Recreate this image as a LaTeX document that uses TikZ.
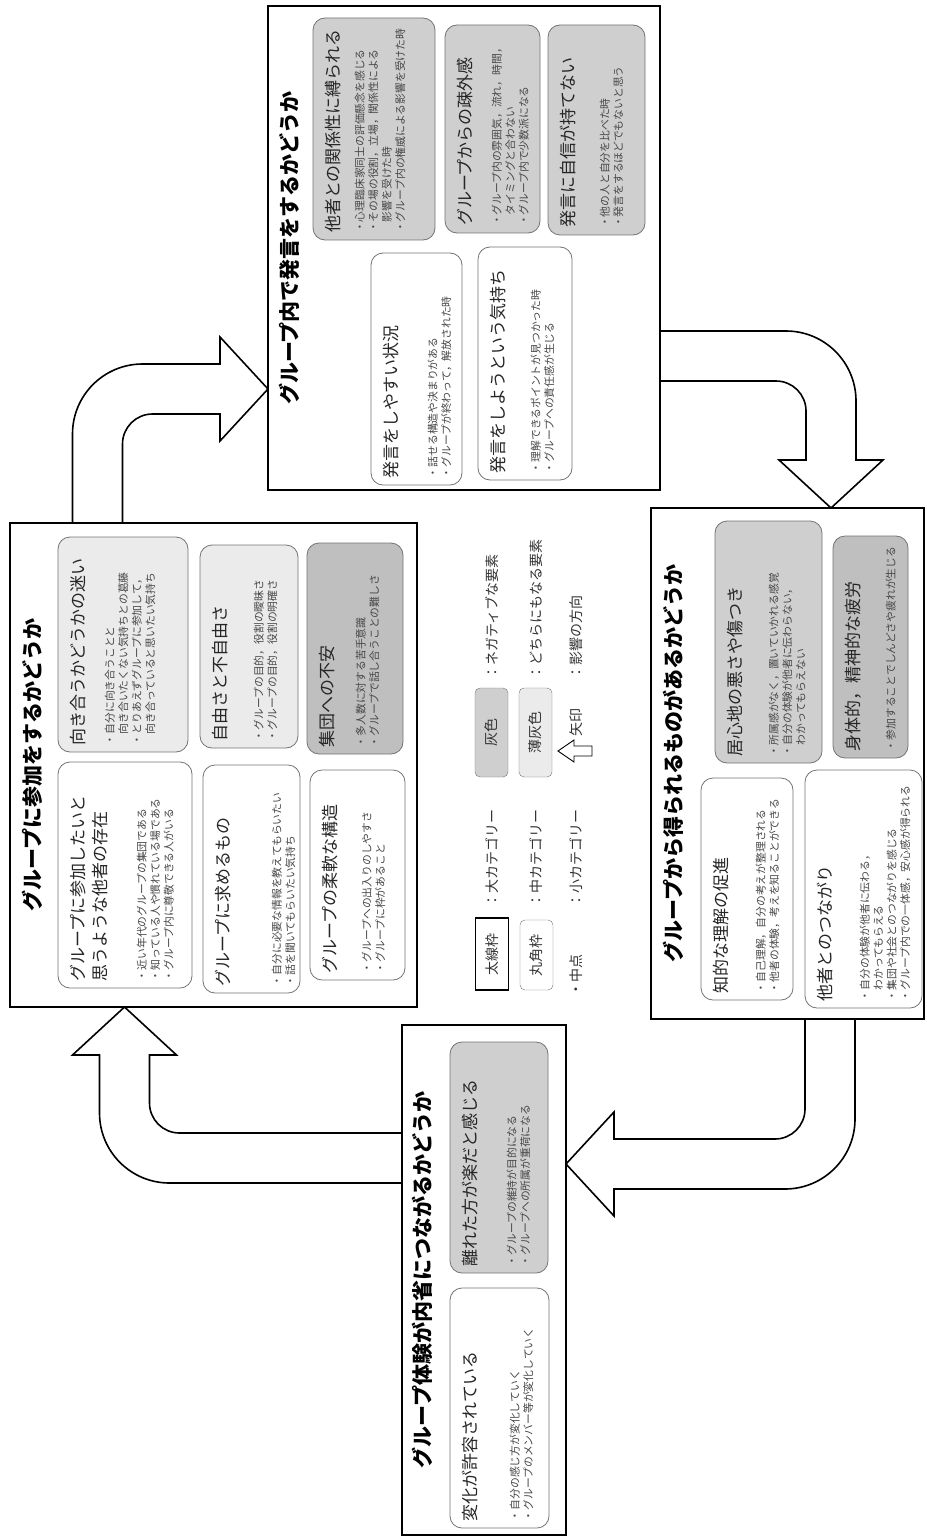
\documentclass[tikz,border=0pt]{standalone}
\usepackage{fontspec}
\setmainfont{Noto Sans CJK JP}
\usetikzlibrary{calc}
\newcommand{\midfont}{\fontsize{17pt}{22pt}\selectfont}
\newcommand{\subfont}{\fontsize{10.8pt}{13.5pt}\selectfont}
% category box body: [gap]{width}{height}{title}{items}
\newcommand{\cattext}[5][20pt]{%
  \parbox[c][#3][t]{#2}{\raggedright
    {\midfont\color{black!85}#4\par}\vspace{#1}%
    {\subfont\color{black!72}#5\par}}}
\begin{document}
\begin{tikzpicture}[x=1pt, y=1pt,
    bigbox/.style={draw, line width=2pt, outer sep=0pt, rotate=90},
    bigtitle/.style={rotate=90, font=\fontsize{21pt}{24pt}\selectfont\bfseries},
    catbox/.style={rotate=90, rounded corners=12pt, draw=black!55, line width=0.8pt, inner xsep=7pt, inner ysep=12pt},
    negbox/.style={catbox, fill=black!19},
    negdark/.style={catbox, fill=black!25},
    midbox/.style={catbox, fill=black!8},
    posbox/.style={catbox, fill=white},
    legbox/.style={rotate=90, inner sep=0pt, minimum height=33pt, font=\fontsize{14pt}{16pt}\selectfont, text=black!80},
    legtext/.style={rotate=90, anchor=west, inner sep=0pt, font=\fontsize{14pt}{16pt}\selectfont, text=black!80},
    bigarrow/.style={draw, line width=1.6pt, fill=white, line join=miter}]
\useasboundingbox (0,0) rectangle (926,-1538);

% large categories
\node[bigbox, minimum width=484pt, minimum height=392pt] (hatsugen) at (464,-248) {};
\node[bigbox, minimum width=484pt, minimum height=407pt] (sanka) at (213.5,-765) {};
\node[bigbox, minimum width=511pt, minimum height=273pt] (eru) at (787.5,-763.5) {};
\node[bigbox, minimum width=510pt, minimum height=164pt] (naisei) at (484,-1280) {};

\node[bigtitle] (hatsugen_ttl) at ($(hatsugen.north)+(21,0)$) {グループ内で発言をするかどうか};
\node[bigtitle] (sanka_ttl) at ($(sanka.north)+(22,0)$) {グループに参加をするかどうか};
\node[bigtitle] (eru_ttl) at ($(eru.north)+(22,0)$) {グループから得られるものがあるかどうか};
\node[bigtitle] (naisei_ttl) at ($(naisei.north)+(20,0)$) {グループ体験が内省につながるかどうか};

% hatsugen
\node[negbox] (kankei) at (374,-129) {\cattext[11pt]{208pt}{98pt}{他者との関係性に縛られる}{・心理臨床家同士の評価懸念を感じる\\・その場の役割，立場，関係性による\\\hspace*{1em}影響を受けた時\\・グループ内の権威による影響を受けた時}};
\node[negbox] (sogai) at (492.5,-129) {\cattext[16pt]{194pt}{71pt}{グループからの疎外感}{・グループ内の雰囲気，流れ，時間，\\\hspace*{1em}タイミングと合わない\\・グループ内で少数派になる}};
\node[negbox] (jishin) at (596.5,-130) {\cattext[21pt]{196pt}{73pt}{発言に自信が持てない}{・他の人と自分を比べた時\\・発言をするほどでもないと思う}};
\node[posbox] (yasui) at (416.5,-369) {\cattext[26pt]{218pt}{67pt}{発言をしやすい状況}{・話せる構造や決まりがある\\・グループが終わって，解放された時}};
\node[posbox] (kimochi) at (525,-363.5) {\cattext[22pt]{219pt}{70pt}{発言をしようという気持ち}{・理解できるポイントが見つかった時\\・グループへの責任感が生じる}};

% sanka
\node[midbox] (mayoi) at (123,-644.5) {\cattext[16pt]{201pt}{106pt}{向き合うかどうかの迷い}{・自分に向き合うことと\\\hspace*{1em}向き合いたくない気持ちとの葛藤\\・とりあえずグループに参加して，\\\hspace*{1em}向き合っていると思いたい気持ち}};
\node[midbox] (jiyu) at (249,-646.5) {\cattext[23pt]{189pt}{74pt}{自由さと不自由さ}{・グループの目的，役割の曖昧さ\\・グループの目的，役割の明確さ}};
\node[negdark] (fuan) at (355,-648.5) {\cattext[18pt]{197pt}{72pt}{集団への不安}{・多人数に対する苦手意識\\・グループで話し合うことの難しさ}};
\node[posbox] (tasha) at (125,-875) {\cattext[26pt]{212pt}{110pt}{グループに参加したいと\\思うような他者の存在}{・近い年代のグループの集団である\\・知っている人や慣れている場である\\・グループ内に尊敬できる人がいる}};
\node[posbox] (motomeru) at (251.5,-879) {\cattext[38pt]{214pt}{73pt}{グループに求めるもの}{・自分に必要な情報を教えてもらいたい\\・話を聞いてもらいたい気持ち}};
\node[posbox] (kozo) at (357.5,-875) {\cattext[21pt]{196pt}{71pt}{グループの柔軟な構造}{・グループへの出入りのしやすさ\\・グループに枠があること}};

% eru
\node[negbox] (igokochi) at (768.5,-642) {\cattext[23pt]{228pt}{83pt}{居心地の悪さや傷つき}{・所属感がなく，置いていかれる感覚\\・自分の体験が他者に伝わらない，\\\hspace*{1em}わかってもらえない}};
\node[negdark] (hirou) at (870.5,-647) {\cattext[22pt]{208pt}{51pt}{身体的，精神的な疲労}{・参加することでしんどさや疲れが生じる}};
\node[posbox] (chiteki) at (747,-889) {\cattext[24pt]{208pt}{68pt}{知的な理解の促進}{・自己理解，自分の考えが整理される\\・他者の体験，考えを知ることができる}};
\node[posbox] (tsunagari) at (863.5,-889) {\cattext[24pt]{224pt}{93pt}{他者とのつながり}{・自分の体験が他者に伝わる，\\\hspace*{1em}わかってもらえる\\・集団や社会とのつながりを感じる\\・グループ内での一体感，安心感が得られる}};

% naisei
\node[negbox] (hanare) at (499,-1157.5) {\cattext[26pt]{217pt}{74pt}{離れた方が楽だと感じる}{・グループの維持が目的になる\\・グループへの所属が重荷になる}};
\node[posbox] (henka) at (499.5,-1408) {\cattext[29pt]{226pt}{75pt}{変化が許容されている}{・自分の感じ方が変化していく\\・グループのメンバー等が変化していく}};

% legend
\node[legbox, draw, line width=1.6pt, minimum width=72pt] (taisen) at (492,-954) {太線枠};
\node[legtext] (taisen_lbl) at (492,-908) {：大カテゴリー};
\node[legbox, draw=black!55, rounded corners=5pt, minimum width=70pt] (marukado) at (536.5,-955) {丸角枠};
\node[legtext] (marukado_lbl) at (536,-908) {：中カテゴリー};
\node[legtext] (chuten) at (576,-997) {・中点};
\node[legtext] (chuten_lbl) at (576,-908) {：小カテゴリー};
\node[legbox, draw=black!55, rounded corners=5pt, fill=black!19, minimum width=89pt] (hai) at (491.5,-732.5) {灰色};
\node[legtext] (hai_lbl) at (492,-680) {：ネガティブな要素};
\node[legbox, draw=black!55, rounded corners=5pt, fill=black!8, minimum width=89pt] (usuhai) at (535.5,-732.5) {薄灰色};
\node[legtext] (usuhai_lbl) at (536,-680) {：どちらにもなる要素};
\node[legtext] (yajirushi) at (576,-737) {矢印};
\node[legtext] (yajirushi_lbl) at (576,-680) {：影響の方向};
\draw[line width=0.9pt, fill=white] (558,-751) -- (574,-740) -- (574,-746) -- (592,-746) -- (592,-756) -- (574,-756) -- (574,-762) -- cycle;

% flow arrows
\coordinate (a1s) at ($(sanka.north east)+(87.5,0)$);
\coordinate (a1e) at ($(hatsugen.north east)+(0,-383)$);
\coordinate (a2s) at ($(hatsugen.south east)+(0,-350)$);
\coordinate (a2e) at ($(eru.north east)+(180,0)$);
\coordinate (a3s) at ($(eru.north west)+(179,0)$);
\coordinate (a3e) at ($(naisei.south east)+(0,-139)$);
\coordinate (a4s) at ($(naisei.north east)+(0,-133)$);
\coordinate (a4e) at ($(sanka.north west)+(114.5,0)$);

\draw[bigarrow] let \p1=(a1s), \p2=(a1e) in
  (\x1-25pt,\y1) -- (\x1-25pt,\y2+25pt-70pt) arc[start angle=180, end angle=90, radius=70pt]
  -- (\x2-48pt,\y2+25pt) -- (\x2-48pt,\y2+52pt) -- (a1e) -- (\x2-48pt,\y2-52pt) -- (\x2-48pt,\y2-25pt)
  -- (\x1+55pt,\y2-25pt) arc[start angle=90, end angle=180, radius=30pt] -- (\x1+25pt,\y1) -- cycle;
\draw[bigarrow] let \p1=(a2s), \p2=(a2e) in
  (\x1,\y1+25pt) -- (\x2-45pt,\y1+25pt) arc[start angle=90, end angle=0, radius=70pt]
  -- (\x2+25pt,\y2+48pt) -- (\x2+52pt,\y2+48pt) -- (a2e) -- (\x2-52pt,\y2+48pt) -- (\x2-25pt,\y2+48pt)
  -- (\x2-25pt,\y1-55pt) arc[start angle=0, end angle=90, radius=30pt] -- (\x1,\y1-25pt) -- cycle;
\draw[bigarrow] let \p1=(a3s), \p2=(a3e) in
  (\x1+25pt,\y1) -- (\x1+25pt,\y2+45pt) arc[start angle=0, end angle=-90, radius=70pt]
  -- (\x2+48pt,\y2-25pt) -- (\x2+48pt,\y2-52pt) -- (a3e) -- (\x2+48pt,\y2+52pt) -- (\x2+48pt,\y2+25pt)
  -- (\x1-55pt,\y2+25pt) arc[start angle=-90, end angle=0, radius=30pt] -- (\x1-25pt,\y1) -- cycle;
\draw[bigarrow] let \p1=(a4s), \p2=(a4e) in
  (\x1,\y1-25pt) -- (\x2+45pt,\y1-25pt) arc[start angle=-90, end angle=-180, radius=70pt]
  -- (\x2-25pt,\y2-48pt) -- (\x2-52pt,\y2-48pt) -- (a4e) -- (\x2+52pt,\y2-48pt) -- (\x2+25pt,\y2-48pt)
  -- (\x2+25pt,\y1+55pt) arc[start angle=180, end angle=270, radius=30pt] -- (\x1,\y1+25pt) -- cycle;
\end{tikzpicture}
\end{document}
